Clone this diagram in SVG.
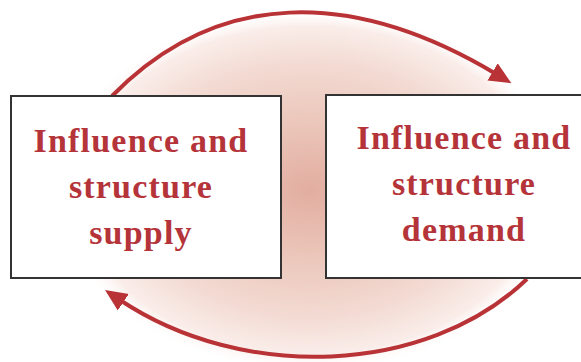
<svg xmlns="http://www.w3.org/2000/svg" width="581" height="362" viewBox="0 0 581 362">
  <style>
    .box { fill: #ffffff; stroke: #333333; stroke-width: 2; }
    .lbl { font-family: "Liberation Serif", "Times New Roman", serif; font-weight: bold; font-size: 34px; letter-spacing: 1.2px; fill: #b5343a; text-anchor: middle; }
    .arc { fill: none; stroke: #b83236; stroke-width: 4; marker-end: url(#ah); }
  </style>
  <defs>
    <radialGradient id="glow" cx="0.5" cy="0.5" r="0.5">
      <stop offset="0" stop-color="#e2ada0"/>
      <stop offset="0.35" stop-color="#ebc5b9"/>
      <stop offset="0.7" stop-color="#f3dbd3"/>
      <stop offset="0.9" stop-color="#faede9"/>
      <stop offset="1" stop-color="#ffffff" stop-opacity="0"/>
    </radialGradient>
    <marker id="ah" markerUnits="userSpaceOnUse" markerWidth="24" markerHeight="22" refX="4" refY="11" orient="auto">
      <path d="M0,1 L22,11 L0,21 Z" fill="#b83236"/>
    </marker>
  </defs>
  <rect width="581" height="362" fill="#ffffff"/>
  <ellipse cx="310" cy="190" rx="255" ry="182" fill="url(#glow)"/>
  <g id="connectors">
    <path class="arc" d="M112,96 C217,-11 352,-12 496,74"/>
    <path class="arc" d="M527,279 C426,376 242,381.5 120,300"/>
  </g>
  <g id="supply">
    <rect class="box" x="11" y="96" width="270" height="182"/>
    <text class="lbl" x="141" y="152">Influence and</text>
    <text class="lbl" x="141" y="198">structure</text>
    <text class="lbl" x="141" y="244">supply</text>
  </g>
  <g id="demand">
    <rect class="box" x="326" y="95" width="280" height="183"/>
    <text class="lbl" x="464" y="149">Influence and</text>
    <text class="lbl" x="464" y="195">structure</text>
    <text class="lbl" x="464" y="241">demand</text>
  </g>
</svg>
